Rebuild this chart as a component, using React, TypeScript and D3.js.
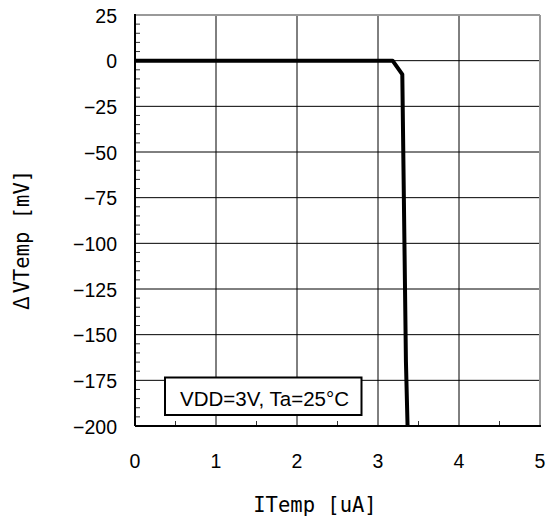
import React from "react";
import * as d3 from "d3";

const xTicks = [0, 1, 2, 3, 4, 5];
const yTicks = [25, 0, -25, -50, -75, -100, -125, -150, -175, -200];
const curveX = [0, 1, 2, 3, 3.18, 3.3, 3.345, 3.365];
const curveY = [0, 0, 0, 0, 0, -7.5, -165, -200];
const legendText = "VDD=3V, Ta=25\u00B0C";
const xTitle = "ITemp [uA]";
const yTitle = "\u0394VTemp [mV]";

export default function App() {
  const W = 550, H = 520;
  const L = 135, R = 540, T = 15, B = 426;
  const x = d3.scaleLinear().domain([0, 5]).range([L, R]);
  const y = d3.scaleLinear().domain([-200, 25]).range([B, T]);
  const pts = curveX.map((v, i) => [v, curveY[i]] as [number, number]);
  const line = d3.line<[number, number]>().x(d => x(d[0])).y(d => y(d[1]));
  const yMinor = d3.range(-200, 25, 5).filter(v => v % 25 !== 0);
  const xMinor = d3.range(0.5, 5, 1);
  const tickFont = "'Liberation Sans', Arial, sans-serif";
  const titleFont = "'DejaVu Sans Mono', monospace";
  const fmt = (v: number) => (v < 0 ? "\u2212" + Math.abs(v) : String(v));
  return (
    <svg width={W} height={H} style={{ position: "absolute", left: 0, top: 0, background: "#fff" }}>
      <rect x={0} y={0} width={W} height={H} fill="#fff" />
      {xTicks.slice(1, -1).map(v => (
        <line key={"gx" + v} x1={x(v)} x2={x(v)} y1={T} y2={B} stroke="#000" strokeWidth={1} />
      ))}
      {yTicks.slice(1, -1).map(v => (
        <line key={"gy" + v} x1={L} x2={R} y1={y(v)} y2={y(v)} stroke="#000" strokeWidth={1} />
      ))}
      {yMinor.map(v => (
        <line key={"my" + v} x1={L} x2={L + 5} y1={y(v)} y2={y(v)} stroke="#333" strokeWidth={1} />
      ))}
      {xMinor.map(v => (
        <line key={"mx" + v} x1={x(v)} x2={x(v)} y1={B} y2={B - 5} stroke="#333" strokeWidth={1} />
      ))}
      <line x1={L} x2={R} y1={T} y2={T} stroke="#999" strokeWidth={2} />
      <line x1={R} x2={R} y1={T} y2={B} stroke="#999" strokeWidth={2} />
      <line x1={L} x2={L} y1={T - 1} y2={B} stroke="#000" strokeWidth={2} />
      <line x1={L} x2={R + 1} y1={B} y2={B} stroke="#000" strokeWidth={2} />
      <path d={line(pts) || ""} fill="none" stroke="#000" strokeWidth={4} strokeLinejoin="round" />
      <rect x={165} y={377.5} width={196.5} height={37.5} fill="#fff" stroke="#000" strokeWidth={2} />
      <text x={264.5} y={405.5} textAnchor="middle" fontFamily={tickFont} fontSize={20.5} fill="#000">{legendText}</text>
      {yTicks.map(v => (
        <text key={"ty" + v} x={117} y={y(v) + 7.5} textAnchor="end" fontFamily={tickFont} fontSize={19.5} fill="#000">{fmt(v)}</text>
      ))}
      {xTicks.map(v => (
        <text key={"tx" + v} x={x(v)} y={468} textAnchor="middle" fontFamily={tickFont} fontSize={19.5} fill="#000">{v}</text>
      ))}
      <text x={315} y={511.5} textAnchor="middle" fontFamily={titleFont} fontSize={20.5} fill="#000">{xTitle}</text>
      <text transform={`translate(29,240) rotate(-90)`} textAnchor="middle" fontFamily={titleFont} fontSize={20.5} fill="#000">
        <tspan fontFamily="'Noto Sans CJK JP', sans-serif" fontSize={21}>{yTitle.slice(0, 1)}</tspan>
        <tspan dx={3}>{yTitle.slice(1)}</tspan>
      </text>
    </svg>
  );
}
